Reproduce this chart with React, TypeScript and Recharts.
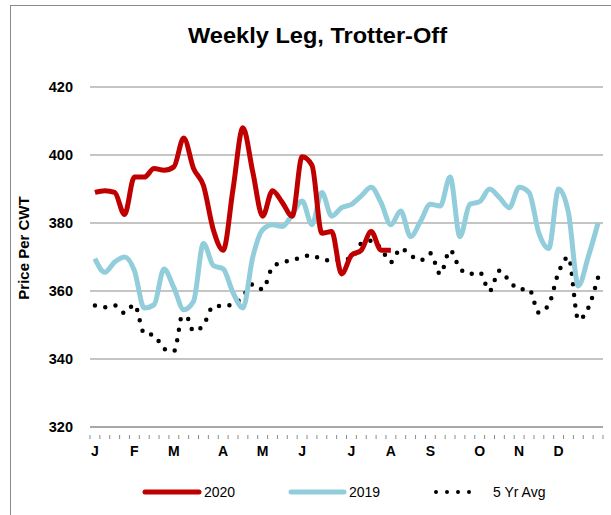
import React from "react";
import { LineChart, Line, XAxis, YAxis, CartesianGrid } from "recharts";

// month letters and the week each one sits on
const monthLabels = ["J", "F", "M", "A", "M", "J", "J", "A", "S", "O", "N", "D"];
const monthWeeks = [0, 4, 8, 13, 17, 21, 26, 30, 34, 39, 43, 47];

// weekly prices, $/cwt
const price2020 = [
    389, 389.5, 389, 382.5, 393.5, 393.5, 396, 395.5, 396.5, 405, 396, 391, 378,
    372, 390, 408, 395, 382, 389.5, 386, 382, 399.5, 397, 377, 377.5, 365, 370.5,
    372, 377.5, 372, 372,
];
const price2019 = [
    369.5, 365.5, 368.5, 370, 366, 355, 356, 366.5, 361, 354.5, 357, 374, 367.5,
    366.5, 359.5, 355, 370, 378, 379.5, 379, 382.5, 386.5, 379.5, 389, 382, 384.5,
    385.5, 388, 390.5, 386, 379.5, 383.5, 376, 380.5, 385.5, 385, 393.5, 376,
    385.5, 386.3, 390, 387.5, 384.5, 390.5, 389, 377, 372.5, 390, 383, 361.5, 370,
    380,
];
const avg5yr = [
    355.7, 355.2, 355.8, 353.5, 356, 347.5, 347, 343, 342.3, 354.5, 348.2, 350,
    355.5, 355.6, 356, 358.5, 362, 360.5, 367, 368.5, 369, 370, 370.5, 369.3, 369,
    369.3, 369.5, 374, 374.8, 372.5, 368.5, 372.5, 370.5, 369, 371.1, 365, 372,
    366.6, 365, 365.5, 360, 366, 363, 360.5, 360.5, 353.6, 356, 365.5, 370, 351.5,
    355, 364,
];
const yTicks = [320, 340, 360, 380, 400, 420];

const data = avg5yr.map((v, i) => ({
    week: i,
    y2020: price2020[i],
    y2019: price2019[i],
    avg: v,
}));

const FONT = "'Liberation Sans', Arial, sans-serif";
const GRID = "#8c8c8c";
const RED = "#c00000";
const BLUE = "#92cddc";
const STEP = 9.86;

// Excel style: tick marks between weeks, letter under first week of month
function WeekTick(props: any) {
    const { x, y, payload, index } = props;
    const idx = monthWeeks.indexOf(payload.value);
    return (
        <g>
            <line x1={x - STEP / 2} x2={x - STEP / 2} y1={y} y2={y + 4} stroke={GRID} />
            {index === data.length - 1 && (
                <line x1={x + STEP / 2} x2={x + STEP / 2} y1={y} y2={y + 4} stroke={GRID} />
            )}
            {idx >= 0 && (
                <text
                    x={x}
                    y={y + 16}
                    dy="0.35em"
                    textAnchor="middle"
                    fontFamily={FONT}
                    fontWeight="bold"
                    fontSize={14}
                    fill="#000"
                >
                    {monthLabels[idx]}
                </text>
            )}
        </g>
    );
}

export default function App() {
    return (
        <div style={{ position: "relative", width: 611, height: 515, overflow: "hidden", background: "#fff" }}>
            <style>{`body{margin:0;overflow:hidden}`}</style>
            <div
                style={{
                    position: "absolute",
                    left: 10,
                    top: 5,
                    width: 640,
                    height: 540,
                    border: "1px solid #8a8a8a",
                }}
            />

            <div style={{ position: "absolute", left: 0, top: 0 }}>
                <LineChart
                    width={611}
                    height={515}
                    data={data}
                    margin={{ top: 87, right: 8, left: 30, bottom: 58 }}
                >
                    <text
                        x={317.5}
                        y={43}
                        textAnchor="middle"
                        fontFamily={FONT}
                        fontWeight="bold"
                        fontSize={21.5}
                        textLength={259}
                        lengthAdjust="spacingAndGlyphs"
                    >
                        Weekly Leg, Trotter-Off
                    </text>
                    <text
                        transform="translate(24, 248) rotate(-90)"
                        textAnchor="middle"
                        dy="0.35em"
                        fontFamily={FONT}
                        fontWeight="bold"
                        fontSize={15}
                    >
                        Price Per CWT
                    </text>
                    <CartesianGrid vertical={false} stroke={GRID} strokeWidth={1.2} />
                    <XAxis
                        dataKey="week"
                        type="category"
                        interval={0}
                        height={30}
                        padding={{ left: STEP / 2, right: STEP / 2 }}
                        axisLine={{ stroke: GRID, strokeWidth: 1.2 }}
                        tickLine={false}
                        tick={<WeekTick />}
                    />
                    <YAxis
                        width={60}
                        domain={[320, 420]}
                        ticks={yTicks}
                        axisLine={false}
                        tickLine={false}
                        tickSize={0}
                        tickMargin={17}
                        tick={{ fontFamily: FONT, fontWeight: "bold", fontSize: 14.5, fill: "#000" }}
                    />
                    <Line
                        dataKey="avg"
                        type="monotone"
                        stroke="#000"
                        strokeWidth={4.5}
                        strokeLinecap="round"
                        strokeDasharray="0 10.5"
                        dot={false}
                        activeDot={false}
                        isAnimationActive={false}
                    />
                    <Line
                        dataKey="y2019"
                        type="monotone"
                        stroke={BLUE}
                        strokeWidth={5}
                        dot={false}
                        activeDot={false}
                        isAnimationActive={false}
                    />
                    <Line
                        dataKey="y2020"
                        type="monotone"
                        stroke={RED}
                        strokeWidth={5}
                        dot={false}
                        activeDot={false}
                        isAnimationActive={false}
                    />
                </LineChart>
            </div>

            {/* legend */}
            <svg
                width={611}
                height={40}
                style={{ position: "absolute", left: 0, top: 472 }}
                fontFamily={FONT}
                fontSize={14}
            >
                <line x1={145} x2={199} y1={20} y2={20} stroke={RED} strokeWidth={5} strokeLinecap="round" />
                <text x={204} y={20} dy="0.35em">2020</text>
                <line x1={291} x2={344} y1={20} y2={20} stroke={BLUE} strokeWidth={5} strokeLinecap="round" />
                <text x={349} y={20} dy="0.35em">2019</text>
                <line
                    x1={436}
                    x2={480}
                    y1={20}
                    y2={20}
                    stroke="#000"
                    strokeWidth={4}
                    strokeLinecap="round"
                    strokeDasharray="0 11"
                />
                <text x={493} y={20} dy="0.35em">5 Yr Avg</text>
            </svg>
        </div>
    );
}
